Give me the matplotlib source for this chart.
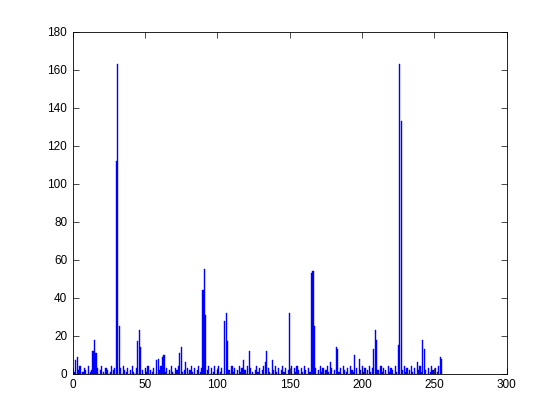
# histogram bars, MATLAB look
import numpy as np
import matplotlib
matplotlib.use('Agg')
import matplotlib.pyplot as plot

# grey-level bins and counts
levels = np.arange(256)
counts = [3, 1, 7, 9, 2, 4, 0, 1, 3, 2,
          0, 4, 1, 2, 12, 18, 11, 3, 0, 2,
          4, 1, 0, 3, 2, 0, 1, 4, 2, 3,
          112, 163, 25, 3, 0, 4, 2, 1, 3, 0,
          2, 4, 1, 0, 3, 17, 23, 14, 2, 0,
          3, 1, 4, 0, 2, 1, 3, 0, 7, 8,
          2, 4, 9, 10, 1, 3, 0, 2, 4, 1,
          0, 3, 2, 4, 11, 14, 1, 2, 6, 3,
          0, 2, 4, 1, 3, 0, 2, 4, 1, 3,
          44, 55, 31, 2, 4, 0, 3, 1, 4, 0,
          2, 4, 1, 3, 0, 28, 32, 17, 2, 0,
          4, 1, 3, 0, 2, 4, 1, 3, 7, 2,
          0, 4, 12, 3, 1, 0, 2, 4, 1, 3,
          0, 2, 4, 6, 12, 3, 1, 0, 7, 2,
          4, 1, 3, 0, 2, 4, 1, 3, 0, 2,
          32, 4, 0, 3, 1, 4, 2, 0, 3, 1,
          4, 2, 0, 3, 1, 53, 54, 25, 3, 0,
          2, 4, 1, 3, 0, 2, 4, 1, 6, 3,
          0, 2, 14, 13, 1, 3, 0, 4, 2, 1,
          3, 0, 4, 2, 1, 10, 3, 0, 8, 2,
          4, 1, 3, 0, 2, 4, 1, 3, 13, 23,
          18, 2, 0, 4, 1, 3, 2, 0, 4, 1,
          3, 2, 0, 4, 1, 15, 163, 133, 2, 4,
          1, 3, 0, 2, 4, 1, 3, 0, 6, 2,
          4, 1, 18, 13, 2, 0, 3, 1, 4, 2,
          0, 3, 1, 4, 9, 8]

xticks = np.arange(0, 301, 50)
yticks = np.arange(0, 181, 20)

plot.rcParams['font.family'] = ['Liberation Sans', 'DejaVu Sans']

fig = plot.figure(figsize=(5.6, 4.2), dpi=100)
ax = fig.add_axes([0.13, 0.11, 0.775, 0.815])
ax.bar(levels, counts, width=0.8, color='#0000ff', edgecolor='#0000ff',
       linewidth=0.3)

ax.set_xlim(0, 300)
ax.set_ylim(0, 180)
ax.set_xticks(xticks)
ax.set_yticks(yticks)
ax.tick_params(direction='in', top=True, right=True, length=4,
               width=0.5, labelsize=8.5, pad=4)
for s in ax.spines.values():
    s.set_linewidth(0.6)

fig.savefig('out.png', dpi=100, facecolor='white')
